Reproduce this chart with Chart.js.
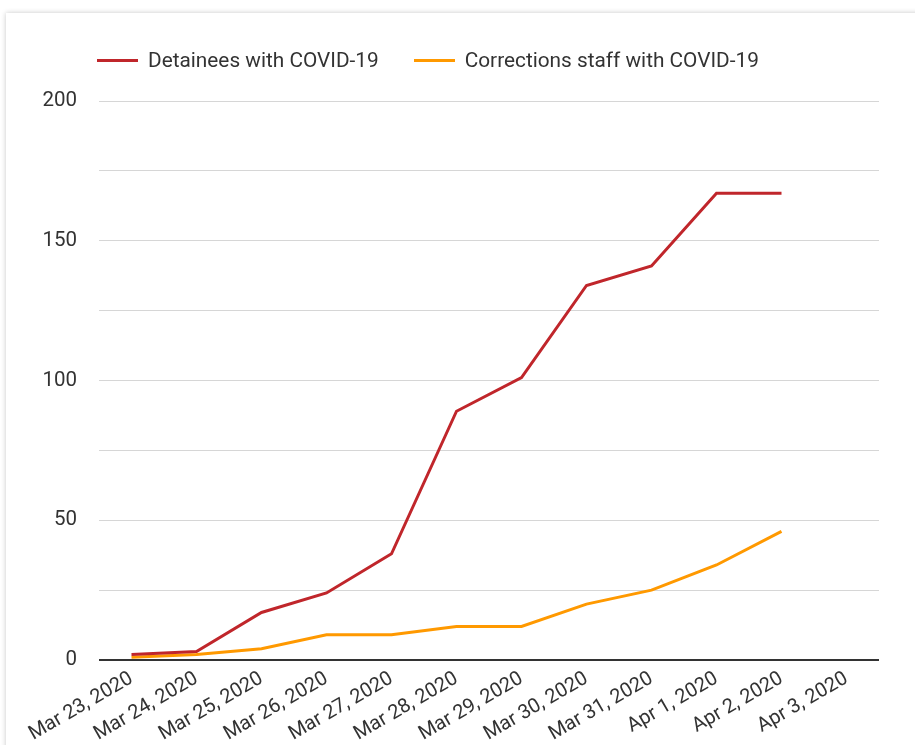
<!DOCTYPE html>
<html>
<head>
<meta charset="utf-8">
<script src="https://cdn.jsdelivr.net/npm/chart.js@4"></script>
<style>
    html, body { margin: 0; padding: 0; background: #ffffff; overflow: hidden; }
    body { width: 915px; height: 745px; position: relative; font-family: Roboto, sans-serif; }
    .card {
        position: absolute; left: 6px; top: 13px; width: 940px; height: 760px;
        background: #fff; box-shadow: 0 0 5px rgba(0, 0, 0, 0.22);
    }
    #chartWrap { position: absolute; left: 0; top: 0; width: 915px; height: 745px; }
    .legend { position: absolute; top: 48px; left: 97px; display: flex; align-items: center; font-size: 20.8px; color: #333; }
    .legend .item { display: flex; align-items: center; margin-right: 35px; }
    .legend .swatch { width: 41px; height: 3px; margin-right: 10px; }
</style>
</head>
<body>
<div class="card"></div>
<div id="chartWrap"><canvas id="covidChart" width="915" height="745"></canvas></div>
<div class="legend" id="legend"></div>
<script>
    const categories = ['Mar 23, 2020', 'Mar 24, 2020', 'Mar 25, 2020', 'Mar 26, 2020', 'Mar 27, 2020', 'Mar 28, 2020',
        'Mar 29, 2020', 'Mar 30, 2020', 'Mar 31, 2020', 'Apr 1, 2020', 'Apr 2, 2020', 'Apr 3, 2020'];
    const detainees = [2, 3, 17, 24, 38, 89, 101, 134, 141, 167, 167, null];
    const staff = [1, 2, 4, 9, 9, 12, 12, 20, 25, 34, 46, null];
    const yTickLabels = [0, 50, 100, 150, 200];
    const seriesNames = ['Detainees with COVID-19', 'Corrections staff with COVID-19'];
    const seriesColors = ['#c0262b', '#ff9900'];

    (function () {
        const legend = document.getElementById('legend');
        legend.innerHTML = seriesNames.map((name, i) =>
            `<div class="item"><span class="swatch" style="background:${seriesColors[i]}"></span><span>${name}</span></div>`
        ).join('');

        const canvas = document.getElementById('covidChart');
        new Chart(canvas, {
            type: 'line',
            data: {
                labels: categories,
                datasets: [
                    { label: seriesNames[0], data: detainees, borderColor: seriesColors[0], backgroundColor: seriesColors[0], borderWidth: 3, pointRadius: 0, tension: 0 },
                    { label: seriesNames[1], data: staff, borderColor: seriesColors[1], backgroundColor: seriesColors[1], borderWidth: 3, pointRadius: 0, tension: 0 },
                ],
            },
            options: {
                responsive: false,
                animation: false,
                layout: { padding: { top: 101, right: 36, bottom: 0, left: 0 } },
                plugins: { legend: { display: false }, tooltip: { enabled: false } },
                scales: {
                    x: {
                        offset: true,
                        grid: { display: false, drawTicks: false },
                        border: { display: false },
                        ticks: {
                            autoSkip: false, minRotation: 30, maxRotation: 30, padding: 7,
                            color: '#333', font: { family: 'Roboto', size: 20 },
                        },
                        afterFit: function (scale) { scale.height = 85; },
                    },
                    y: {
                        min: 0, max: 200,
                        border: { display: false },
                        grid: {
                            drawTicks: false,
                            color: ctx => ctx.tick && ctx.tick.value === 0 ? '#333' : '#d6d6d6',
                            lineWidth: ctx => ctx.tick && ctx.tick.value === 0 ? 2 : 1,
                        },
                        ticks: {
                            stepSize: 25, padding: 22, color: '#333', font: { family: 'Roboto', size: 20.5 },
                            callback: value => yTickLabels.includes(value) ? value : '',
                        },
                        afterFit: function (scale) { scale.width = 99; },
                    },
                },
            },
        });
    })();
</script>
</body>
</html>
